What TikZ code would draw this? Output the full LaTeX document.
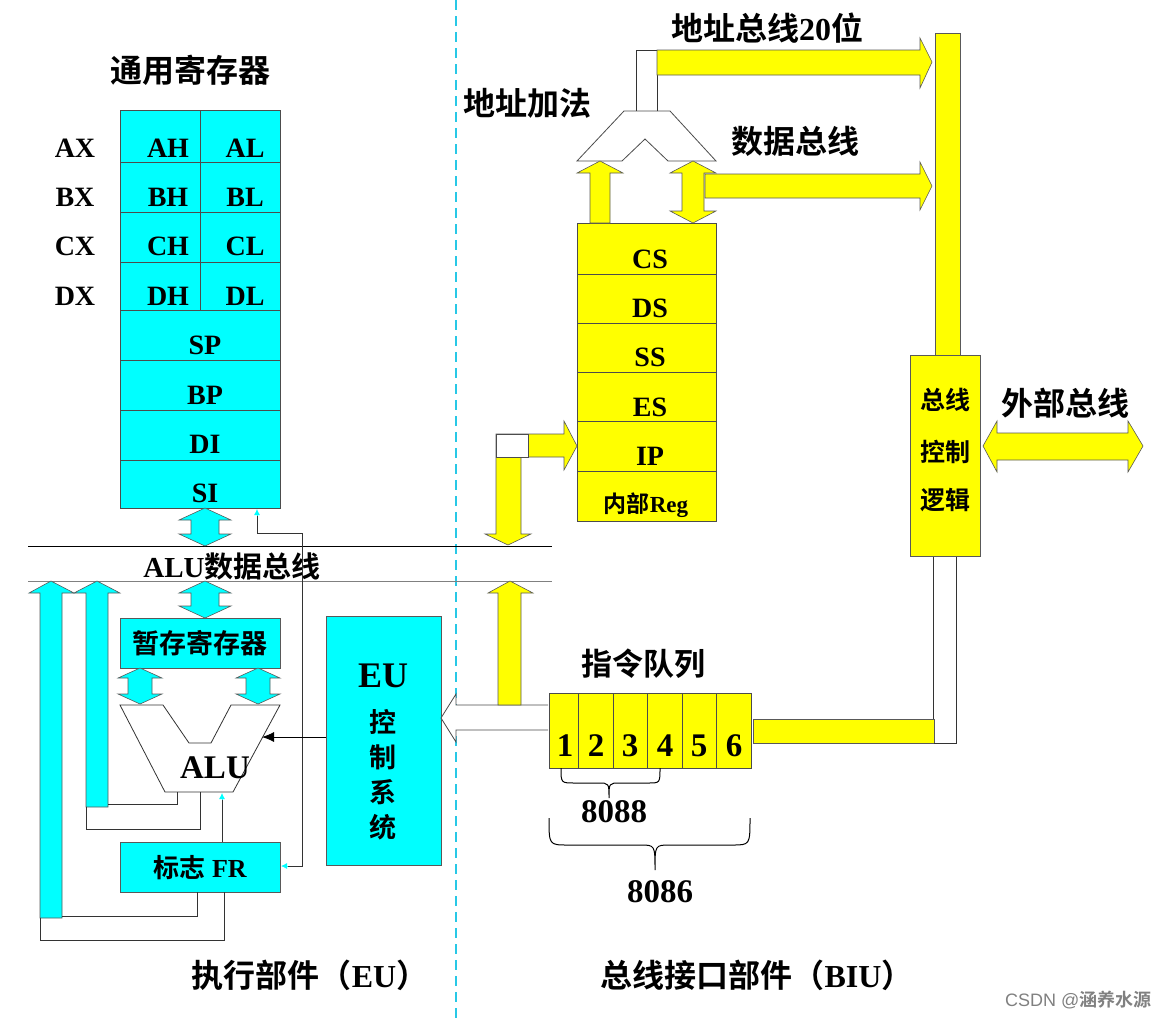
\documentclass[tikz,border=0pt]{standalone}
\usepackage{fontspec}
\usetikzlibrary{arrows.meta}
\setmainfont{Liberation Serif}
\newfontfamily\cjk{Noto Sans CJK SC}[UprightFont=* Bold,BoldFont=* Bold]
\definecolor{cyn}{RGB}{0,255,255}
\definecolor{yel}{RGB}{255,255,0}
\definecolor{dashc}{RGB}{40,200,230}
\begin{document}
\begin{tikzpicture}[x=1pt,y=-1pt,
  cy/.style={fill=cyn,draw=gray!70!black,line width=0.6pt},
  yl/.style={fill=yel,draw=gray!70!black,line width=0.6pt},
  ln/.style={draw=gray!40!black,line width=0.8pt},
  reg/.style={font=\fontsize{28}{30}\selectfont\bfseries},
  big/.style={font=\fontsize{33}{36}\selectfont\bfseries},
  ttl/.style={font=\fontsize{32}{36}\selectfont\cjk},
  lbl/.style={font=\fontsize{27}{30}\selectfont\cjk}]
\useasboundingbox (0,0) rectangle (1158,1020);
\newcommand\dvarrow[7]{\fill[#7] ({#1-#2},{#4+#6}) -- ({#1-#3},{#4+#6}) -- (#1,#4) -- ({#1+#3},{#4+#6}) -- ({#1+#2},{#4+#6}) -- ({#1+#2},{#5-#6}) -- ({#1+#3},{#5-#6}) -- (#1,#5) -- ({#1-#3},{#5-#6}) -- ({#1-#2},{#5-#6}) -- cycle;}
\draw[dashc,line width=2pt,dash pattern=on 10pt off 6pt] (456,0) -- (456,1020);
\node[ttl] (tgr) at (190,70) {通用寄存器};
\fill[cyn] (120,110) rectangle (280,508);
\foreach \y in {162,212,262,310,360,410,460} \draw[gray!60!black] (120,\y) -- (280,\y);
\draw[gray!60!black] (120,110) rectangle (280,508);
\draw[gray!60!black] (200,110) -- (200,310);
\foreach \a/\b/\c/\y in {AX/AH/AL/148,BX/BH/BL/197,CX/CH/CL/246,DX/DH/DL/296}{
  \node[reg] (l\a) at (75,\y) {\a};
  \node[reg] (r\b) at (168,\y) {\b};
  \node[reg] (r\c) at (245,\y) {\c};}
\foreach \r/\y in {SP/345,BP/395,DI/444,SI/493} \node[reg] (r\r) at (205,\y) {\r};
\draw[black,line width=0.8pt] (28,546) -- (552,546);
\draw[gray,line width=0.8pt] (28,581) -- (552,581);
\node[font=\fontsize{29}{32}\selectfont] (aluBus) at (232,566) {\textbf{ALU}{\cjk 数据总线}};
\dvarrow{205}{14}{26}{508}{546}{12}{cy}
\dvarrow{205}{14}{26}{581}{618}{12}{cy}
\node[cy,minimum width=160pt,minimum height=50pt,inner sep=0,anchor=north west,lbl] (tmp) at (120,618) {暂存寄存器};
\dvarrow{140}{12}{22}{668}{704}{10}{cy}
\dvarrow{258}{12}{22}{668}{704}{10}{cy}
\draw[gray!40!black,line width=0.8pt,fill=white] (120,705) -- (163,705) -- (189,743) -- (211,743) -- (231,705) -- (280,705) -- (233,792) -- (165,792) -- cycle;
\node[big] (alu) at (215,768) {ALU};
\filldraw[cy] (40,918) -- (40,593) -- (29,593) -- (51,581) -- (74,593) -- (62,593) -- (62,918) -- cycle;
\filldraw[cy] (86,807) -- (86,593) -- (74,593) -- (97,581) -- (120,593) -- (108,593) -- (108,807) -- cycle;
\draw[ln] (177,792) -- (177,804) -- (108,804);
\draw[ln] (200,792) -- (200,829) -- (86,829) -- (86,807);
\node[cy,minimum width=160pt,minimum height=50pt,inner sep=0,anchor=north west,font=\fontsize{26}{28}\selectfont] (fr) at (120,842) {{\cjk 标志} \textbf{FR}};
\draw[ln] (197,892) -- (197,916) -- (62,916);
\draw[ln] (224,892) -- (224,940) -- (40,940) -- (40,918);
\draw[ln] (fr.north -| 222,0) -- (222,800);
\draw[cyn,-{Latex[length=6pt,width=6pt]},line width=0.8pt] (222,800) -- (222,793);
\coordinate (siL) at (257,533);
\draw[ln] (siL) -- (302,533) -- (302,866) -- (288,866);
\draw[cyn,-{Latex[length=6pt,width=6pt]},line width=0.8pt] (288,866) -- (281,866);
\draw[ln] (siL) -- (257,515);
\draw[cyn,-{Latex[length=6pt,width=6pt]},line width=0.8pt] (257,515) -- (257,509);
\node[cy,minimum width=115pt,minimum height=249pt,inner sep=0,anchor=north west] (eu) at (326,616) {};
\node[big,font=\fontsize{36}{38}\selectfont\bfseries] (euT) at (383,676) {EU};
\foreach \c/\y in {控/722,制/757,系/792,统/827} \node[lbl] at (383,\y) {\c};
\draw[ln,-{Latex[length=12pt,width=10pt]},black] (eu.west |- 0,737) -- (262,737);
\draw[gray!60!black,line width=0.8pt,fill=white] (548,705) -- (456,705) -- (456,694) -- (441,718) -- (456,742) -- (456,730) -- (548,730);
\filldraw[yl] (498,705) -- (498,593) -- (488,593) -- (510,581) -- (533,593) -- (521,593) -- (521,705) -- cycle;
\node[ttl,font=\fontsize{31}{34}\selectfont\cjk] (tq) at (643,664) {指令队列};
\fill[yel] (549,693) rectangle (751,768);
\draw[gray!60!black] (549,693) rectangle (751,768);
\foreach \x in {578,613,647,682,716} \draw[gray!60!black] (\x,693) -- (\x,768);
\foreach \n/\x in {1/565,2/596,3/630,4/665,5/699,6/734} \node[big] (q\n) at (\x,746) {\n};
\draw[line width=1pt] (561,768) .. controls (561,783) .. (575,783) -- (598,783) .. controls (609,783) .. (609,798) .. controls (609,783) .. (620,783) -- (648,783) .. controls (660,783) .. (660,768);
\node[big] (n88) at (614,812) {8088};
\draw[line width=1pt] (549,818) .. controls (549,845) .. (568,845) -- (640,845) .. controls (655,845) .. (655,870) .. controls (655,845) .. (670,845) -- (732,845) .. controls (750,845) .. (750,818);
\node[big] (n86) at (660,892) {8086};
\filldraw[yl] (753,719) rectangle (934,743);
\draw[ln] (933,556) -- (933,719);
\draw[ln] (956,556) -- (956,743) -- (934,743);
\fill[yel] (577,223) rectangle (716,521);
\foreach \y in {274,323,372,421,471} \draw[gray!60!black] (577,\y) -- (716,\y);
\draw[gray!60!black] (577,223) rectangle (716,521);
\foreach \r/\y in {CS/259,DS/308,SS/357,ES/407,IP/456} \node[reg] (s\r) at (650,\y) {\r};
\node[font=\fontsize{23}{25}\selectfont] (sIR) at (646,505) {{\cjk 内部}\textbf{Reg}};
\filldraw[yl] (496,434) -- (564,434) -- (564,421) -- (577,446) -- (564,470) -- (564,457) -- (521,457) -- (521,534) -- (531,534) -- (508,545) -- (485,534) -- (496,534) -- cycle;
\filldraw[fill=white,draw=gray!60!black] (496,434) rectangle (528,457);
\node[ttl] (tadd) at (527,103) {地址加法};
\draw[gray!60!black,line width=0.8pt,fill=white] (577,161) -- (624,111) -- (670,111) -- (716,161) -- (668,161) -- (645,139) -- (622,161) -- cycle;
\filldraw[yl] (590,223) -- (590,173) -- (577,173) -- (600,161) -- (623,173) -- (610,173) -- (610,223) -- cycle;
\dvarrow{693}{11}{23}{161}{223}{12}{yl}
\filldraw[yl] (705,174) -- (920,174) -- (920,162) -- (932,186) -- (920,210) -- (920,198) -- (705,198) -- cycle;
\draw[ln] (636,111) -- (636,50) -- (657,50);
\draw[ln] (657,111) -- (657,75);
\filldraw[yl] (657,50) -- (920,50) -- (920,38) -- (932,62) -- (920,88) -- (920,75) -- (657,75) -- cycle;
\node[ttl] (tab) at (767,28) {地址总线{\rmfamily\bfseries 20}位};
\node[ttl] (tdb) at (795,141) {数据总线};
\filldraw[yl] (935,33) rectangle (960,355);
\node[yl,minimum width=70pt,minimum height=201pt,inner sep=0,anchor=north west] (bcl) at (910,355) {};
\foreach \t/\y in {总线/400,控制/452,逻辑/500} \node[font=\fontsize{25}{27}\selectfont\cjk] at (945,\y) {\t};
\filldraw[yl] (983,446) -- (997,421) -- (997,433) -- (1128,433) -- (1128,421) -- (1143,446) -- (1128,472) -- (1128,460) -- (997,460) -- (997,472) -- cycle;
\node[ttl] (tex) at (1065,403) {外部总线};
\node[ttl] (teu) at (310,975) {执行部件（{\rmfamily\bfseries EU}）};
\node[ttl] (tbiu) at (757,975) {总线接口部件（{\rmfamily\bfseries BIU}）};
\node[font=\fontsize{18}{20}\selectfont,text=gray,anchor=east] (wm) at (1155,1000) {{\fontspec{Liberation Sans}CSDN @}{\cjk 涵养水源}};
\end{tikzpicture}
\end{document}
